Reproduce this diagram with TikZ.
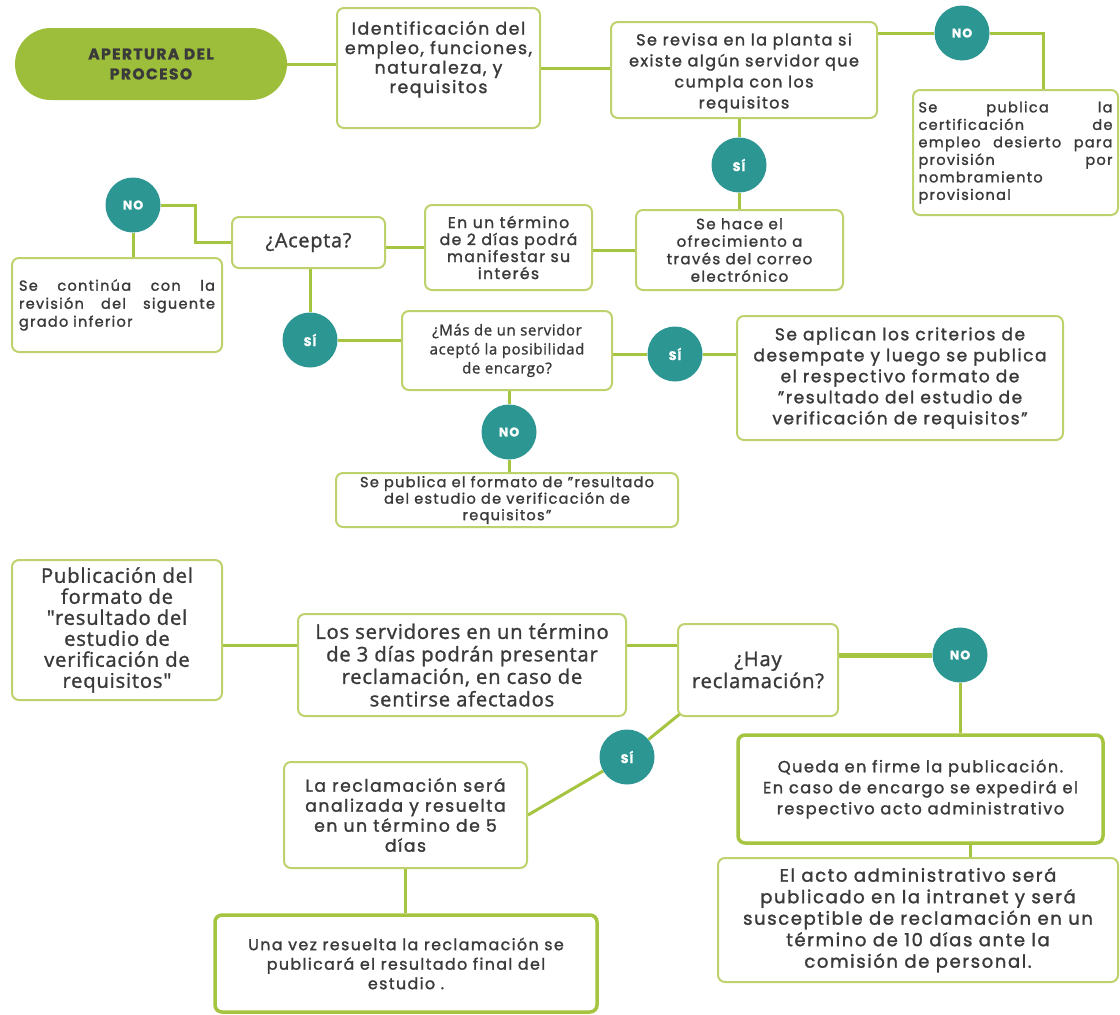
\documentclass[tikz,border=0pt]{standalone}
\usepackage{fontspec}
\setmainfont{Poppins}[LetterSpace=9, FakeBold=1.5]
\newfontfamily\humfont{Open Sans}[LetterSpace=4, FakeBold=1.3]
\usetikzlibrary{positioning,backgrounds}
\definecolor{leaf}{HTML}{A5C43F}
\definecolor{rim}{HTML}{BDD26C}
\definecolor{pillgreen}{HTML}{9DBE3B}
\definecolor{dotteal}{HTML}{2B9692}
\definecolor{ink}{HTML}{3A3A3A}
\newcommand{\fsz}[2]{\fontsize{#1}{#2}\selectfont}
\tikzset{
  box/.style={draw=rim, line width=2pt, rounded corners=7pt, fill=white, text=ink, inner sep=0pt, align=center},
  boldbox/.style={box, draw=leaf, line width=3.5pt},
  dot/.style={circle, fill=dotteal, minimum size=55pt, inner sep=0pt, text=white, font=\bfseries\fsz{12.5}{14}},
  link/.style={draw=leaf, line width=3pt},
}
\begin{document}
\begin{tikzpicture}[x=1pt,y=-1pt]
\useasboundingbox (0,0) rectangle (1120,1015);

% top part
\node[fill=pillgreen, rounded corners=36pt, minimum width=272pt, minimum height=72pt, inner sep=0pt, align=center, text=ink, font=\bfseries\fsz{15.5}{20}] (open) at (151,64) {APERTURA DEL\\PROCESO};
\node[box, minimum width=203pt, minimum height=120pt, font=\fsz{17.3}{19.5}] (ident) at (438.5,68) {Identificación del\\empleo, funciones,\\naturaleza, y\\requisitos\\[2.5pt]\mbox{}};
\node[box, minimum width=266pt, minimum height=96pt, font=\fsz{16}{21}] (revisa) at (744,70) {\rule{0pt}{18pt}Se revisa en la planta si\\existe algún servidor que\\cumpla con los\\requisitos};
\node[dot] (noA) at (962,33) {NO};
\node[box, minimum width=205pt, minimum height=125pt, text width=194pt, align=left, font=\fsz{14.5}{17.5}] (desierto) at (1015.5,152.5) {Se\hfill publica\hfill la\\certificación\hfill de\\empleo\hfill desierto\hfill para\\provisión\hfill por\\nombramiento\\provisional};
\node[dot] (siA) at (739,165) {SÍ};
\node[box, minimum width=207pt, minimum height=80pt, font=\fsz{15}{17.5}] (ofrec) at (739.5,250) {Se hace el\\ofrecimiento a\\través del correo\\electrónico};
\node[box, minimum width=167pt, minimum height=85pt, font=\fsz{15.6}{17}] (termino) at (508.5,247.5) {En un término\\de 2 días podrá\\manifestar su\\interés};
\node[box, minimum width=153pt, minimum height=51pt, font=\humfont\fsz{19.8}{22}] (acepta) at (308.5,242.5) {¿Acepta?};
\node[dot] (noB) at (133,205) {NO};
\node[box, minimum width=210pt, minimum height=94pt, text width=196pt, align=left, font=\fsz{14.5}{18}] (continua) at (117,305) {Se\hfill continúa\hfill con\hfill la\\revisión\hfill del\hfill siguente\\grado inferior\\[8pt]};

% middle part
\node[dot] (siB) at (310,340) {SÍ};
\node[box, minimum width=210pt, minimum height=79pt, font=\humfont\fsz{15}{19}] (mas) at (507,350.5) {¿Más de un servidor\\aceptó la posibilidad\\de encargo?};
\node[dot] (siC) at (675,354) {SÍ};
\node[box, minimum width=326pt, minimum height=124pt, font=\fsz{17}{21}] (desempate) at (900,378) {Se aplican los criterios de\\desempate y luego se publica\\el respectivo formato de\\"resultado del estudio de\\verificación de requisitos"};
\node[dot] (noC) at (509,432) {NO};
\node[box, minimum width=342pt, minimum height=54pt, font=\fsz{14.5}{16.5}] (publica) at (507,500) {Se publica el formato de "resultado\\del estudio de verificación de\\requisitos"};

% bottom part
\node[box, minimum width=210pt, minimum height=140pt, font=\humfont\fsz{20.2}{21}] (publicacion) at (117,630) {Publicación del\\formato de\\"resultado del\\estudio de\\verificación de\\requisitos"};
\node[box, minimum width=328pt, minimum height=102pt, font=\humfont\fsz{20.2}{22.5}] (servidores) at (462,665) {Los servidores en un término\\de 3 días podrán presentar\\reclamación, en caso de\\sentirse afectados};
\node[box, minimum width=160pt, minimum height=92pt, font=\humfont\fsz{20.2}{22}] (hay) at (758,670) {¿Hay\\reclamación?};
\node[dot] (noD) at (960,655) {NO};
\node[boldbox, minimum width=365pt, minimum height=108pt, font=\fsz{16.2}{21}] (queda) at (920.5,789) {Queda en firme la publicación.\\En caso de encargo se expedirá el\\respectivo acto administrativo};
\node[box, minimum width=400pt, minimum height=124pt, font=\fsz{18}{21.5}] (acto) at (918,920) {El acto administrativo será\\publicado en la intranet y será\\susceptible de reclamación en un\\término de 10 días ante la\\comisión de personal.};
\node[dot] (siD) at (627,757) {SÍ};
\node[box, minimum width=243pt, minimum height=106pt, font=\fsz{17.2}{20}] (recl) at (405.5,815) {La reclamación será\\analizada y resuelta\\en un término de 5\\días};
\node[boldbox, minimum width=382pt, minimum height=97pt, font=\fsz{15.8}{19.5}] (unavez) at (406,963.5) {Una vez resuelta la reclamación se\\publicará el resultado final del\\estudio .};

% connectors
\begin{scope}[on background layer]
\fill[white] (0,0) rectangle (1120,1015);
\draw[link] (open.east) -- (open.east -| ident.west);
\draw[link] (ident.east) -- (ident.east -| revisa.west);
\draw[link] (revisa.east |- noA) -- (noA);
\draw[link] (noA.east) -| ([xshift=28pt]desierto.north);
\draw[link] (siA |- revisa.south) -- (siA) -- (siA |- ofrec.north);
\draw[link] (ofrec.west) -- (ofrec.west -| termino.east);
\draw[link] (termino.west) -- (termino.west -| acepta.east);
\draw[link] (acepta.west) -- ++(-36,0) |- (noB);
\draw[link] (noB) -- (noB |- continua.north);
\draw[link] (siB |- acepta.south) -- (siB);
\draw[link] (siB) -- (siB -| mas.west);
\draw[link] (mas.east |- siC) -- (siC) -- (siC -| desempate.west);
\draw[link] (noC |- mas.south) -- (noC) -- (noC |- publica.north);
\draw[link] ([yshift=-15pt]publicacion.east) -- ([yshift=-15pt]publicacion.east -| servidores.west);
\draw[link] ([yshift=20pt]servidores.east) -- ([yshift=20pt]servidores.east -| hay.west);
\draw[link, line width=5pt] ([yshift=15pt]hay.east) -- (noD);
\draw[link] (noD) -- (noD |- queda.north);
\draw[link] ([xshift=50pt]queda.south) -- ([xshift=50pt]queda.south |- acto.north);
\draw[link] ([xshift=4pt,yshift=4pt]hay.south west) -- (siD) -- (recl.east);
\draw[link] (recl.south) -- (recl.south |- unavez.north);
\end{scope}
\end{tikzpicture}
\end{document}
